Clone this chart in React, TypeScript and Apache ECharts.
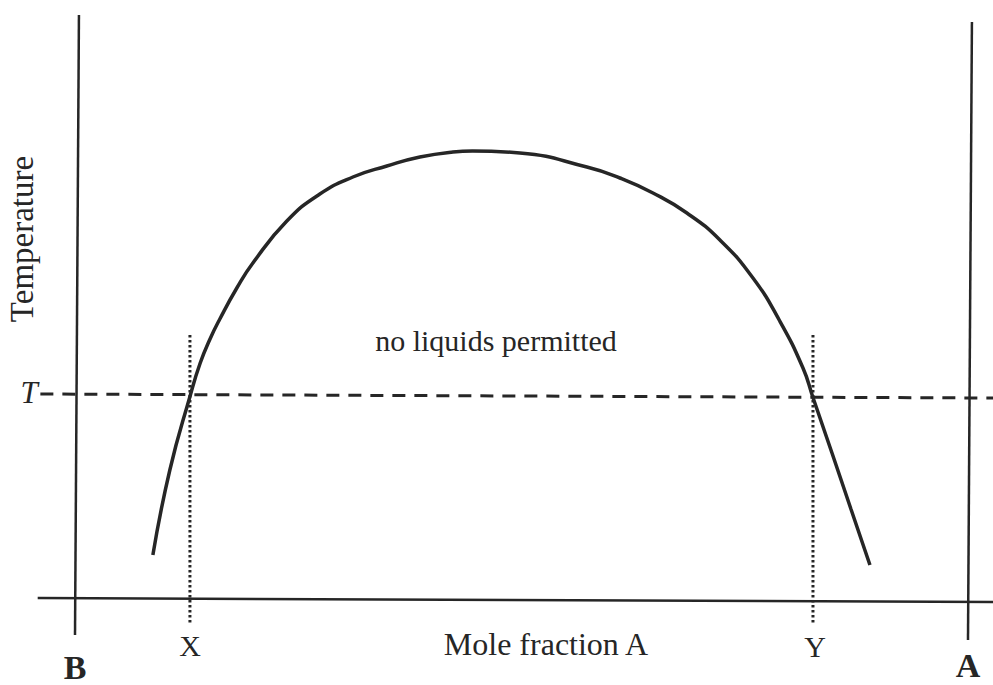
import React, { useEffect, useRef } from "react";
import * as echarts from "echarts";

// Mole fraction of A (0 = pure B, 1 = pure A) and temperature (arbitrary units)
const curveX = [0.085, 0.104, 0.127, 0.138, 0.149, 0.16, 0.179, 0.197, 0.235, 0.272, 0.309, 0.347, 0.384, 0.421, 0.443, 0.496, 0.571, 0.608, 0.645, 0.683, 0.72, 0.757, 0.787, 0.813, 0.824, 0.8455, 0.8667, 0.888];
const curveT = [9, 26, 41, 47.4, 52.2, 56.2, 62.4, 67.4, 75.8, 81.2, 84.6, 86.8, 88.6, 89.6, 89.8, 89.4, 86.6, 84.4, 81.4, 77.4, 72, 64.4, 55.8, 46.4, 40.6, 29.4, 18.2, 7];

// Isotherm at temperature T (scan is slightly tilted)
const isothermX = [-0.041, 1.026];
const isothermT = [41.2, 40.4];

// Compositions X and Y where the isotherm meets the curve
const compX = 0.1265;
const compY = 0.8242;
const dropTop = 53;
const dropBottom = -4.5;

// Frame lines
const baseX = [-0.044, 1.026];
const baseT = [0.4, -0.4];
const leftX = [0.0022, -0.0022];
const leftT = [117, -7];
const rightX = [1.0022, 0.9978];
const rightT = [115.6, -8];

// Axis extents covering the whole drawing
const xMin = -0.0862;
const xMax = 1.0258;
const tMin = -17;
const tMax = 120;

const labels = { xAxis: "Mole fraction A", yAxis: "Temperature", region: "no liquids permitted" };

const zip = (xs: number[], ys: number[]) => xs.map((x, i) => [x, ys[i]]);

export default function App() {
  const ref = useRef<HTMLDivElement>(null);
  useEffect(() => {
    if (!ref.current) return;
    const chart = echarts.init(ref.current, null, { renderer: "svg" });
    const ink = "#262626";
    const font = "'Liberation Serif', 'DejaVu Serif', serif";
    const lineSeries = (data: number[][], width: number, type: any, smooth: boolean | number = false) => ({
      type: "line",
      data,
      showSymbol: false,
      symbol: "none",
      clip: false,
      smooth,
      silent: true,
      lineStyle: { color: ink, width, type },
    });
    chart.setOption({
      animation: false,
      backgroundColor: "#ffffff",
      grid: { left: 0, right: 0, top: 0, bottom: 0 },
      xAxis: { type: "value", min: xMin, max: xMax, show: false },
      yAxis: { type: "value", min: tMin, max: tMax, show: false },
      series: [
        lineSeries(zip(leftX, leftT), 2.5, "solid"),
        lineSeries(zip(rightX, rightT), 2.5, "solid"),
        lineSeries(zip(baseX, baseT), 2.5, "solid"),
        lineSeries(zip(isothermX, isothermT), 3, [13, 9]),
        lineSeries([[compX, dropTop], [compX, dropBottom]], 3, [2.5, 2.5]),
        lineSeries([[compY, dropTop], [compY, dropBottom]], 3, [2.5, 2.5]),
        lineSeries(zip(curveX, curveT), 3.5, "solid", 0.5),
      ],
      graphic: [
        { type: "text", x: 22, y: 239, rotation: Math.PI / 2, style: { text: labels.yAxis, font: `33px ${font}`, fill: ink, align: "center", verticalAlign: "middle" } },
        { type: "text", x: 29, y: 392, style: { text: "T", font: `italic 31px ${font}`, fill: ink, align: "center", verticalAlign: "middle" } },
        { type: "text", x: 496, y: 340, style: { text: labels.region, font: `30px ${font}`, fill: ink, align: "center", verticalAlign: "middle" } },
        { type: "text", x: 190, y: 645, style: { text: "X", font: `30px ${font}`, fill: ink, align: "center", verticalAlign: "middle" } },
        { type: "text", x: 815, y: 646, style: { text: "Y", font: `30px ${font}`, fill: ink, align: "center", verticalAlign: "middle" } },
        { type: "text", x: 546, y: 644, style: { text: labels.xAxis, font: `32px ${font}`, fill: ink, align: "center", verticalAlign: "middle" } },
        { type: "text", x: 75, y: 667, style: { text: "B", font: `bold 34px ${font}`, fill: ink, align: "center", verticalAlign: "middle" } },
        { type: "text", x: 968, y: 665, style: { text: "A", font: `bold 34px ${font}`, fill: ink, align: "center", verticalAlign: "middle" } },
      ],
    });
    return () => chart.dispose();
  }, []);
  return <div ref={ref} style={{ position: "fixed", left: 0, top: 0, width: 993, height: 685, background: "#fff" }} />;
}
